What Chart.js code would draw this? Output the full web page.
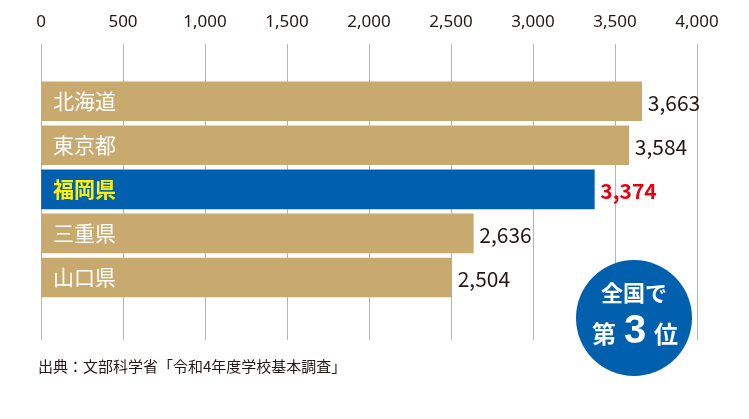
<!DOCTYPE html>
<html><head><meta charset="utf-8">
<script src="https://cdn.jsdelivr.net/npm/chart.js@4"></script>
<style>body{margin:0;background:#fff}#w{width:749px;height:419px;position:relative}</style>
</head><body><div id="w"><canvas id="c" width="749" height="419" style="width:749px;height:419px"></canvas></div>
<script>
const categories=["北海道","東京都","福岡県","三重県","山口県"];
const values=[3663,3584,3374,2636,2504];
const xTicks=[0,500,1000,1500,2000,2500,3000,3500,4000];
const highlight=2;
const F='"Noto Sans CJK JP","Noto Sans",sans-serif';
const labelPlugin={id:'lbl',afterDatasetsDraw(ch){
  const ctx=ch.ctx,meta=ch.getDatasetMeta(0);
  ctx.save();
  meta.data.forEach((b,i)=>{
    const hi=i===highlight;
    ctx.textBaseline='middle';
    ctx.font=(hi?'bold ':'')+'21px '+F;
    ctx.fillStyle=hi?'#fff100':'#fff';ctx.textAlign='left';
    ctx.fillText(categories[i],ch.chartArea.left+12,b.y);
    ctx.fillStyle=hi?'#e60012':'#231815';
    ctx.fillText(values[i].toLocaleString('en-US'),b.x+6,b.y+2);
  });
  ctx.fillStyle='#0060ae';ctx.beginPath();ctx.arc(634,318,58,0,Math.PI*2);ctx.fill();
  ctx.fillStyle='#fff';ctx.textAlign='center';ctx.textBaseline='middle';
  ctx.font='bold 22px '+F;ctx.fillText('全国で',634,293);
  ctx.font='bold 24px '+F;ctx.fillText('第',604,334);ctx.fillText('位',666,334);
  ctx.font='bold 40px "Liberation Sans",sans-serif';ctx.fillText('3',635,332);
  ctx.fillStyle='#231815';ctx.textAlign='left';ctx.font='15px '+F;
  ctx.fillText('出典：文部科学省「令和4年度学校基本調査」',38,366);
  ctx.restore();
}};
new Chart(document.getElementById('c'),{type:'bar',
 data:{datasets:[{data:values.map((v,i)=>({x:v,y:i})),
   backgroundColor:values.map((v,i)=>i===highlight?'#0060ae':'#c8a96e'),barThickness:39}]},
 options:{indexAxis:'y',responsive:false,animation:false,
  layout:{padding:{left:41,right:52,top:0,bottom:79}},
  plugins:{legend:{display:false},tooltip:{enabled:false}},
  scales:{
   x:{type:'linear',position:'top',min:0,max:4000,afterBuildTicks:a=>{a.ticks=xTicks.map(v=>({value:v}))},
      ticks:{color:'#231815',font:{size:17,family:'"Noto Sans",sans-serif'},padding:12,callback:v=>v.toLocaleString('en-US')},
      grid:{color:'#b5b5b5',drawTicks:false},border:{display:false}},
   y:{type:'linear',reverse:true,min:-0.81,max:4.94,display:false}
  }},
 plugins:[labelPlugin]});
</script></body></html>
